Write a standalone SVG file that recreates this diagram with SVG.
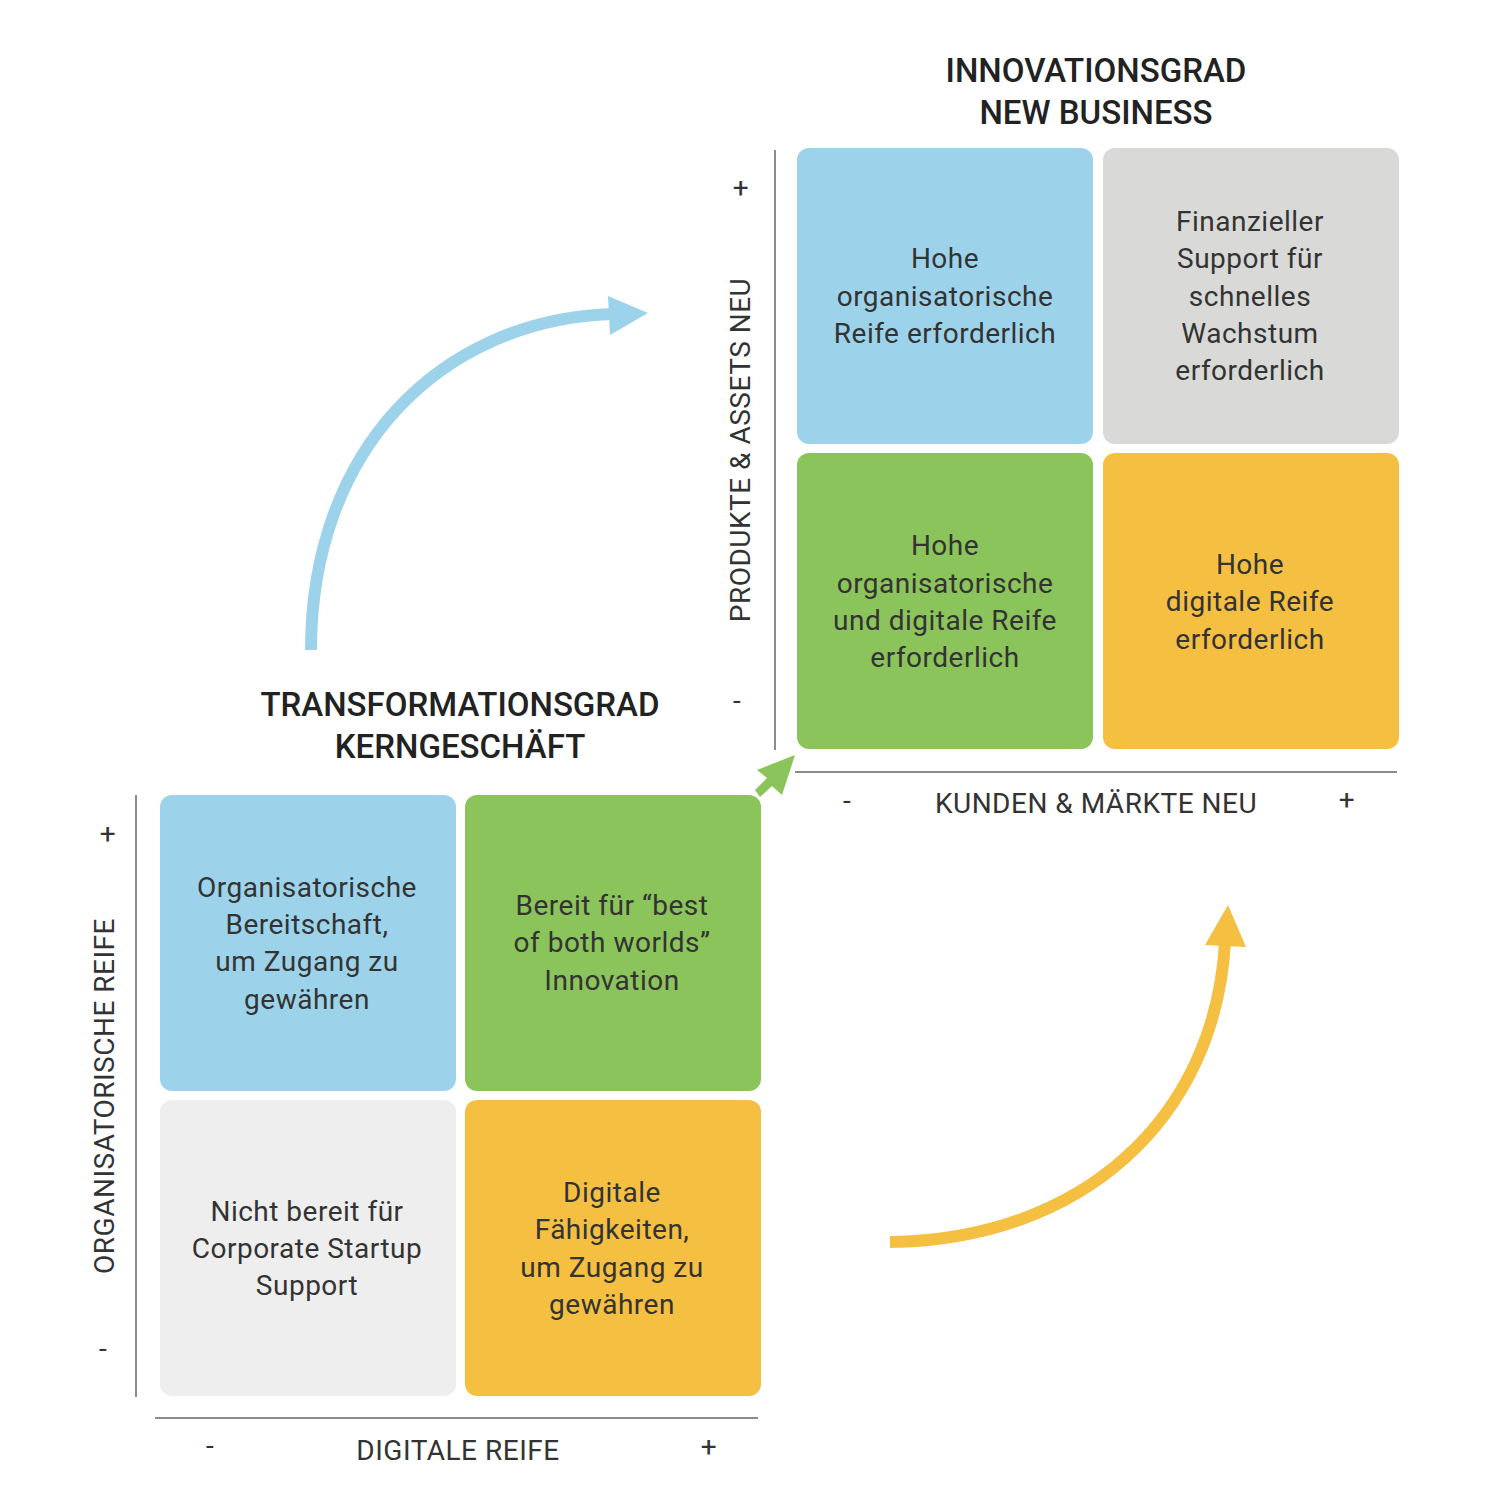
<svg xmlns="http://www.w3.org/2000/svg" width="1497" height="1500" viewBox="0 0 1497 1500">
<style>
.t{font-family:Roboto,"Liberation Sans",sans-serif;font-size:28px;fill:#333;text-anchor:middle;letter-spacing:0.5px}
.h{font-family:Roboto,"Liberation Sans",sans-serif;font-size:33px;font-weight:500;fill:#222;text-anchor:middle}
.ax{stroke:#666;stroke-width:1.5;fill:none}
</style>
<rect width="1497" height="1500" fill="#fff"/>
<text class="h" x="1096" y="82">INNOVATIONSGRAD</text>
<text class="h" x="1096" y="124">NEW BUSINESS</text>
<text class="h" x="460" y="716">TRANSFORMATIONSGRAD</text>
<text class="h" x="460" y="758">KERNGESCHÄFT</text>
<g id="axes">
<line class="ax" x1="775" y1="150" x2="775" y2="750"/>
<line class="ax" x1="795" y1="772" x2="1397" y2="772"/>
<line class="ax" x1="136" y1="795" x2="136" y2="1397"/>
<line class="ax" x1="155" y1="1418" x2="758" y2="1418"/>
<text class="t" x="741" y="197">+</text>
<text class="t" x="737" y="710">-</text>
<text class="t" transform="translate(750,450) rotate(-90)">PRODUKTE &amp; ASSETS NEU</text>
<text class="t" x="847" y="810">-</text>
<text class="t" x="1096" y="813">KUNDEN &amp; MÄRKTE NEU</text>
<text class="t" x="1347" y="809">+</text>
<text class="t" x="108" y="843">+</text>
<text class="t" x="103" y="1358">-</text>
<text class="t" transform="translate(114,1096) rotate(-90)">ORGANISATORISCHE REIFE</text>
<text class="t" x="210" y="1455">-</text>
<text class="t" x="458" y="1460">DIGITALE REIFE</text>
<text class="t" x="709" y="1456">+</text>
</g>
<g id="n1"><rect x="797" y="148" width="296" height="296" rx="12" fill="#9dd3ea"/>
<text class="t" x="945" y="268">Hohe</text><text class="t" x="945" y="306">organisatorische</text><text class="t" x="945" y="343">Reife erforderlich</text></g>
<g id="n2"><rect x="1103" y="148" width="296" height="296" rx="12" fill="#d9dad7"/>
<text class="t" x="1250" y="231">Finanzieller</text><text class="t" x="1250" y="268">Support für</text><text class="t" x="1250" y="306">schnelles</text><text class="t" x="1250" y="343">Wachstum</text><text class="t" x="1250" y="380">erforderlich</text></g>
<g id="n3"><rect x="797" y="453" width="296" height="296" rx="12" fill="#8bc45a"/>
<text class="t" x="945" y="555">Hohe</text><text class="t" x="945" y="593">organisatorische</text><text class="t" x="945" y="630">und digitale Reife</text><text class="t" x="945" y="667">erforderlich</text></g>
<g id="n4"><rect x="1103" y="453" width="296" height="296" rx="12" fill="#f5bf42"/>
<text class="t" x="1250" y="574">Hohe</text><text class="t" x="1250" y="611">digitale Reife</text><text class="t" x="1250" y="649">erforderlich</text></g>
<g id="n5"><rect x="160" y="795" width="296" height="296" rx="12" fill="#9dd3ea"/>
<text class="t" x="307" y="897">Organisatorische</text><text class="t" x="307" y="934">Bereitschaft,</text><text class="t" x="307" y="971">um Zugang zu</text><text class="t" x="307" y="1009">gewähren</text></g>
<g id="n6"><rect x="465" y="795" width="296" height="296" rx="12" fill="#8bc45a"/>
<text class="t" x="612" y="915">Bereit für “best</text><text class="t" x="612" y="952">of both worlds”</text><text class="t" x="612" y="990">Innovation</text></g>
<g id="n7"><rect x="160" y="1100" width="296" height="296" rx="12" fill="#eeeeee"/>
<text class="t" x="307" y="1221">Nicht bereit für</text><text class="t" x="307" y="1258">Corporate Startup</text><text class="t" x="307" y="1295">Support</text></g>
<g id="n8"><rect x="465" y="1100" width="296" height="296" rx="12" fill="#f5bf42"/>
<text class="t" x="612" y="1202">Digitale</text><text class="t" x="612" y="1239">Fähigkeiten,</text><text class="t" x="612" y="1277">um Zugang zu</text><text class="t" x="612" y="1314">gewähren</text></g>
<g id="connectors">
<path d="M311,650 C311,450 440,320 612,314" stroke="#9dd3ea" stroke-width="12" fill="none"/>
<polygon points="608,296 648,313 610,335" fill="#9dd3ea"/>
<path d="M890,1242 C1080,1240 1215,1120 1225,942" stroke="#f5bf42" stroke-width="12" fill="none"/>
<polygon points="1205,945 1228,905 1246,947" fill="#f5bf42"/>
<polygon points="795,755 782,795 772,786 760,797 755,790 767,778 757,770" fill="#8bc45a"/>
</g>
</svg>
